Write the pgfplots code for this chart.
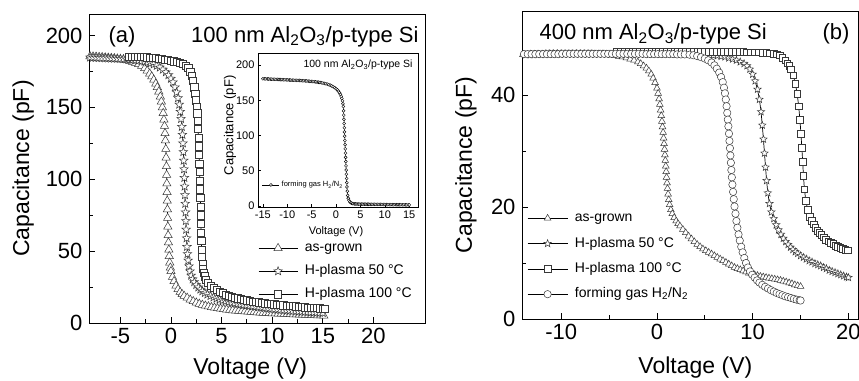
\documentclass[border=0pt]{standalone}
\usepackage{fontspec}
\setmainfont{Liberation Sans}
\usepackage{pgfplots}
\pgfplotsset{compat=1.18}

\pgfdeclareplotmark{ostar}{%
  \pgfpathmoveto{\pgfpointpolar{90}{\pgfplotmarksize}}%
  \pgfpathlineto{\pgfpointpolar{126}{0.42\pgfplotmarksize}}%
  \pgfpathlineto{\pgfpointpolar{162}{\pgfplotmarksize}}%
  \pgfpathlineto{\pgfpointpolar{198}{0.42\pgfplotmarksize}}%
  \pgfpathlineto{\pgfpointpolar{234}{\pgfplotmarksize}}%
  \pgfpathlineto{\pgfpointpolar{270}{0.42\pgfplotmarksize}}%
  \pgfpathlineto{\pgfpointpolar{306}{\pgfplotmarksize}}%
  \pgfpathlineto{\pgfpointpolar{342}{0.42\pgfplotmarksize}}%
  \pgfpathlineto{\pgfpointpolar{18}{\pgfplotmarksize}}%
  \pgfpathlineto{\pgfpointpolar{54}{0.42\pgfplotmarksize}}%
  \pgfpathclose
  \pgfusepathqfillstroke
}

\pgfplotsset{
  cvbase/.style={
    scale only axis,
    axis line style={line width=0.9pt},
    every tick/.style={line width=0.9pt, black},
    tick align=inside,
    tick pos=left,
    major tick length=6pt, minor tick length=3.5pt,
    /pgf/number format/assume math mode=true,
    legend cell align=left,
  },
  mk/.style={black, line width=0.7pt, mark options={fill=white, draw=black!78, line width=0.5pt, solid}},
  tri/.style={mk, mark=triangle*, mark size=#1},
  sqr/.style={mk, mark=square*, mark size=#1},
  str/.style={mk, mark=ostar, mark size=#1},
  cir/.style={mk, mark=*, mark size=#1},
}

\begin{document}
\begin{tikzpicture}
\path[use as bounding box] (0pt,0pt) rectangle (859pt,380pt);

% ---------------- panel (a)
\begin{axis}[cvbase,
  at={(89pt,57pt)}, anchor=south west, width=336pt, height=309pt,
  xmin=-8.1, xmax=25.1, ymin=0, ymax=215,
  xtick={-5,0,...,20}, ytick={0,50,...,200},
  minor x tick num=1, minor y tick num=1,
  ticklabel style={font=\fontsize{22}{26}\selectfont},
  yticklabel style={xshift=-3pt}, xticklabel style={yshift=-2pt},
  xlabel={Voltage (V)}, ylabel={Capacitance (pF)},
  label style={font=\fontsize{23}{27}\selectfont},
  xlabel style={at={(axis description cs:0.48,-0.167)}, anchor=base},
  ylabel style={at={(axis description cs:-0.196,0.5)}, anchor=center},
  legend style={at={(rel axis cs:0.503,0.267)}, anchor=north west, draw=none, fill=none,
    font=\fontsize{14}{16}\selectfont, inner sep=0pt, row sep=8pt, column sep=6pt,
    nodes={inner sep=1pt, text height=10pt, text depth=3pt}},
  legend image code/.code={\draw[mark repeat=2,mark phase=2,#1] plot coordinates {(0pt,0pt) (19.5pt,0pt) (39pt,0pt)};},
]
\addplot[tri=4.8pt] coordinates {
(-8,185.5) (-7.7,185.3) (-7.4,185.2) (-7.1,185.0) (-6.8,184.9) (-6.5,184.7) (-6.2,184.5) (-5.9,184.3) (-5.6,184.1) (-5.3,183.8) (-5.0,183.5) (-4.7,183.2) (-4.4,182.8) (-4.1,182.3) (-3.8,181.7) (-3.5,181.0) (-3.2,180.0) (-2.9,178.8) (-2.6,177.2) (-2.35,175.5) (-2.1,173.5) (-1.9,171.5) (-1.7,169.2) (-1.5,166.5) (-1.35,164) (-1.2,161) (-1.05,157.5) (-0.95,154) (-0.85,150) (-0.77,146) (-0.7,141.5) (-0.64,137) (-0.59,132) (-0.55,127) (-0.51,121) (-0.48,115) (-0.45,109) (-0.43,103) (-0.41,97) (-0.39,91) (-0.37,85) (-0.35,79) (-0.33,73) (-0.31,67) (-0.28,61) (-0.25,56) (-0.21,51) (-0.17,46.5) (-0.12,42) (-0.06,38.5) (0,36) (0.15,32) (0.3,29) (0.5,26) (0.7,23.5) (0.9,21.5) (1.1,20) (1.3,18.8) (1.6,17.5) (1.9,16.2) (2.2,15.1) (2.5,14.1) (2.8,13.3) (3.1,12.6) (3.4,12.0) (3.7,11.5) (4.0,11.0) (4.3,10.6) (4.6,10.2) (4.9,9.9) (5.2,9.6) (5.5,9.3) (5.8,9.0) (6.1,8.8) (6.4,8.6) (6.7,8.4) (7.0,8.2) (7.3,8.0) (7.6,7.8) (7.9,7.6) (8.2,7.5) (8.5,7.3) (8.8,7.2) (9.1,7.0) (9.4,6.9) (9.7,6.8) (10.0,6.7) (10.3,6.6) (10.6,6.5) (10.9,6.4) (11.2,6.3) (11.5,6.2) (11.8,6.1) (12.1,6.0) (12.4,5.9) (12.7,5.8) (13.0,5.7) (13.3,5.6) (13.6,5.5) (13.9,5.45) (14.2,5.4) (14.5,5.3) (14.8,5.2) (15.1,5.1)
};
\addlegendentry{as-grown}
\addplot[str=4.5pt] coordinates {
(-8,184.8) (-7.7,184.7) (-7.4,184.6) (-7.1,184.5) (-6.8,184.4) (-6.5,184.3) (-6.2,184.2) (-5.9,184.1) (-5.6,184.0) (-5.3,183.9) (-5.0,183.8) (-4.7,183.7) (-4.4,183.5) (-4.1,183.3) (-3.8,183.1) (-3.5,182.9) (-3.2,182.6) (-2.9,182.3) (-2.6,181.9) (-2.3,181.4) (-2.0,180.8) (-1.7,180.0) (-1.4,179.0) (-1.1,177.8) (-0.8,176.3) (-0.5,174.5) (-0.25,172.5) (0,170) (0.2,167.5) (0.4,164) (0.55,160.5) (0.7,156.5) (0.82,152) (0.92,147) (1.0,142) (1.07,136.5) (1.13,131) (1.18,125) (1.22,119) (1.26,113) (1.29,107) (1.32,101) (1.35,95) (1.38,89) (1.41,83) (1.44,77) (1.47,71) (1.5,65) (1.54,59) (1.58,53) (1.63,48) (1.7,43.5) (1.78,39.5) (1.88,36) (2.0,33) (2.15,30.5) (2.3,28.5) (2.5,26.5) (2.7,24.8) (2.9,23.3) (3.1,22.1) (3.35,20.9) (3.6,19.9) (3.9,18.8) (4.2,17.9) (4.5,17.1) (4.8,16.4) (5.1,15.8) (5.4,15.2) (5.7,14.7) (6.0,14.2) (6.3,13.8) (6.6,13.4) (6.9,13.0) (7.2,12.6) (7.5,12.3) (7.8,12.0) (8.1,11.7) (8.4,11.4) (8.7,11.1) (9.0,10.8) (9.3,10.5) (9.6,10.2) (9.9,9.9) (10.2,9.6) (10.5,9.4) (10.8,9.2) (11.1,9.0) (11.4,8.8) (11.7,8.6) (12.0,8.4) (12.3,8.2) (12.6,8.0) (12.9,7.9) (13.2,7.7) (13.5,7.6) (13.8,7.4) (14.1,7.3) (14.4,7.2) (14.7,7.1) (15.0,7.0)
};
\addlegendentry{H-plasma 50 °C}
\addplot[sqr=3.6pt] coordinates {
(-4.2,185.5) (-3.9,185.4) (-3.6,185.3) (-3.3,185.2) (-3.0,185.1) (-2.7,185.0) (-2.4,184.9) (-2.1,184.7) (-1.8,184.5) (-1.5,184.3) (-1.2,184.0) (-0.9,183.7) (-0.6,183.3) (-0.3,182.9) (0,182.5) (0.3,182.1) (0.6,181.6) (0.9,181.0) (1.2,180.2) (1.45,179.2) (1.7,177.5) (1.9,175) (2.05,172) (2.18,168.5) (2.3,164) (2.4,159.5) (2.48,155) (2.55,150.5) (2.6,146) (2.64,141) (2.68,135) (2.71,129) (2.74,123) (2.77,117) (2.8,111) (2.83,105) (2.86,99) (2.88,93) (2.9,87) (2.92,81) (2.94,75) (2.96,69) (2.98,63) (3.0,57) (3.03,51) (3.06,46) (3.1,41.5) (3.16,38) (3.24,35) (3.34,32.5) (3.46,30.2) (3.6,28) (3.9,26) (4.2,24.3) (4.5,23) (4.8,21.8) (5.1,20.8) (5.4,19.9) (5.7,19.1) (6.0,18.4) (6.3,17.8) (6.6,17.2) (6.9,16.7) (7.2,16.2) (7.5,15.8) (7.8,15.4) (8.1,15.0) (8.4,14.7) (8.7,14.4) (9.0,14.1) (9.3,13.8) (9.6,13.5) (9.9,13.3) (10.2,13.0) (10.5,12.8) (10.8,12.6) (11.1,12.4) (11.4,12.2) (11.7,12.0) (12.0,11.8) (12.3,11.6) (12.6,11.4) (12.9,11.2) (13.2,11.0) (13.5,10.8) (13.8,10.7) (14.1,10.5) (14.4,10.4) (14.7,10.2) (15.0,10.0) (15.2,9.9)
};
\addlegendentry{H-plasma 100 °C}
\node[anchor=base east, font=\fontsize{22}{26}\selectfont] at (rel axis cs:1,0.909) [xshift=-3pt] {100 nm Al\textsubscript{2}O\textsubscript{3}/p-type Si};
\node[anchor=base west, font=\fontsize{22}{26}\selectfont] at (rel axis cs:0.0476,0.909) {(a)};
\end{axis}

% ---------------- inset
\begin{axis}[cvbase,
  at={(258pt,173pt)}, anchor=south west, width=160pt, height=154pt,
  axis background/.style={fill=white},
  axis line style={line width=0.6pt},
  every tick/.style={line width=0.6pt, black},
  major tick length=3pt,
  xmin=-16, xmax=16.8, ymin=-1.4, ymax=217,
  xtick={-15,-10,...,15}, ytick={0,50,...,200},
  ticklabel style={font=\fontsize{11}{13}\selectfont},
  xlabel={Voltage (V)}, ylabel={Capacitance (pF)},
  xlabel style={font=\fontsize{11}{13}\selectfont, at={(axis description cs:0.4875,-0.18)}, anchor=base},
  ylabel style={font=\fontsize{13}{15}\selectfont, at={(axis description cs:-0.175,0.53)}, anchor=center},
  legend style={at={(rel axis cs:0.025,0.143)}, anchor=west, draw=none, fill=none,
    font=\fontsize{7.5}{9}\selectfont, inner sep=0pt, column sep=1.5pt,
    nodes={inner sep=0.5pt}},
  legend image code/.code={\draw[mark repeat=2,mark phase=2,#1] plot coordinates {(0pt,0pt) (8.5pt,0pt) (17pt,0pt)};},
]
\addplot[cir=1.5pt, line width=0.5pt, mark options={fill=white, draw=black, line width=0.4pt}] coordinates {
(-15,180.5) (-14.7,180.4) (-14.4,180.3) (-14.1,180.2) (-13.8,180.1) (-13.5,180.0) (-13.2,179.9) (-12.9,179.8) (-12.6,179.7) (-12.3,179.6) (-12.0,179.5) (-11.7,179.4) (-11.4,179.3) (-11.1,179.2) (-10.8,179.1) (-10.5,179.0) (-10.2,178.9) (-9.9,178.8) (-9.6,178.7) (-9.3,178.6) (-9.0,178.5) (-8.7,178.4) (-8.4,178.3) (-8.1,178.2) (-7.8,178.1) (-7.5,178.0) (-7.2,177.9) (-6.9,177.7) (-6.6,177.6) (-6.3,177.4) (-6.0,177.3) (-5.7,177.1) (-5.4,176.9) (-5.1,176.7) (-4.8,176.5) (-4.5,176.3) (-4.2,176.1) (-3.9,175.8) (-3.6,175.5) (-3.3,175.2) (-3.0,174.8) (-2.7,174.4) (-2.4,173.9) (-2.1,173.4) (-1.8,172.8) (-1.5,172.1) (-1.2,171.3) (-0.9,170.3) (-0.6,169.2) (-0.3,167.9) (0,166.4) (0.25,164.8) (0.5,162.8) (0.7,160.7) (0.9,158.2) (1.05,155.5) (1.2,152.5) (1.32,149) (1.42,145) (1.5,141) (1.54,135) (1.58,129) (1.62,123) (1.65,117) (1.69,111) (1.73,105) (1.77,99) (1.81,93) (1.85,87) (1.89,81) (1.93,75) (1.96,69) (2.0,63) (2.04,57) (2.08,51) (2.12,45) (2.16,39) (2.2,33) (2.24,27) (2.3,21) (2.38,15) (2.5,11) (2.65,8) (2.82,6) (3.0,4.8) (3.2,4) (3.45,3.4) (3.75,3.0) (4.0,2.9) (4.3,2.85) (4.6,2.8) (4.9,2.75) (5.2,2.7) (5.5,2.65) (5.8,2.6) (6.1,2.55) (6.4,2.5) (6.7,2.5) (7.0,2.45) (7.3,2.4) (7.6,2.4) (7.9,2.35) (8.2,2.3) (8.5,2.3) (8.8,2.25) (9.1,2.2) (9.4,2.2) (9.7,2.15) (10.0,2.1) (10.3,2.1) (10.6,2.05) (10.9,2.0) (11.2,2.0) (11.5,1.95) (11.8,1.9) (12.1,1.9) (12.4,1.85) (12.7,1.8) (13.0,1.8) (13.3,1.75) (13.6,1.7) (13.9,1.7) (14.2,1.65) (14.5,1.6) (14.8,1.6) (15.0,1.6)
};
\addlegendentry{forming gas H\textsubscript{2}/N\textsubscript{2}}
\node[anchor=east, font=\fontsize{10.5}{12}\selectfont] at (rel axis cs:1,0.922) [xshift=-2pt] {100 nm Al\textsubscript{2}O\textsubscript{3}/p-type Si};
\end{axis}

% ---------------- panel (b)
\begin{axis}[cvbase,
  at={(522pt,61pt)}, anchor=south west, width=336pt, height=308pt,
  xmin=-14.1, xmax=21, ymin=0, ymax=55,
  xtick={-10,0,10,20}, ytick={0,20,40},
  minor x tick num=1, minor y tick num=1,
  ticklabel style={font=\fontsize{22}{26}\selectfont},
  yticklabel style={xshift=-3pt}, xticklabel style={yshift=-2pt},
  xlabel={Voltage (V)}, ylabel={Capacitance (pF)},
  label style={font=\fontsize{23}{27}\selectfont},
  xlabel style={at={(axis description cs:0.516,-0.177)}, anchor=base},
  ylabel style={at={(axis description cs:-0.167,0.5)}, anchor=center},
  legend style={at={(rel axis cs:0.015,0.352)}, anchor=north west, draw=none, fill=none,
    font=\fontsize{14}{16}\selectfont, inner sep=0pt, row sep=10.3pt, column sep=6pt,
    nodes={inner sep=1pt, text height=10pt, text depth=3pt}},
  legend image code/.code={\draw[mark repeat=2,mark phase=2,#1] plot coordinates {(0pt,0pt) (20pt,0pt) (40pt,0pt)};},
]
\addplot[tri=3.9pt] coordinates {
(-14.0,47.2) (-13.6,47.2) (-13.2,47.3) (-12.8,47.3) (-12.4,47.3) (-12.0,47.3) (-11.6,47.4) (-11.2,47.4) (-10.8,47.4) (-10.4,47.4) (-10.0,47.4) (-9.6,47.4) (-9.2,47.4) (-8.8,47.4) (-8.4,47.4) (-8.0,47.4) (-7.6,47.4) (-7.2,47.4) (-6.8,47.4) (-6.4,47.3) (-6.0,47.3) (-5.6,47.3) (-5.2,47.2) (-4.8,47.1) (-4.4,47.0) (-4.0,46.9) (-3.6,46.8) (-3.2,46.6) (-2.8,46.4) (-2.4,46.2) (-2.0,45.9) (-1.7,45.6) (-1.4,45.2) (-1.1,44.8) (-0.85,44.3) (-0.6,43.7) (-0.4,43.0) (-0.2,42.2) (0,41.2) (0.12,40.3) (0.22,39.3) (0.3,38.3) (0.38,37.3) (0.45,36.3) (0.52,35.3) (0.58,34.3) (0.64,33.3) (0.69,32.3) (0.74,31.3) (0.79,30.3) (0.83,29.3) (0.87,28.3) (0.92,27.3) (0.96,26.3) (1.0,25.3) (1.05,24.3) (1.1,23.3) (1.16,22.3) (1.23,21.3) (1.32,20.4) (1.45,19.5) (1.6,18.8) (1.8,18.1) (2.0,17.5) (2.2,17.0) (2.4,16.6) (2.7,16.0) (3.0,15.4) (3.3,14.8) (3.6,14.3) (3.9,13.8) (4.2,13.3) (4.5,12.9) (4.8,12.5) (5.1,12.2) (5.4,11.9) (5.7,11.6) (6.0,11.3) (6.3,11.0) (6.6,10.7) (6.9,10.4) (7.2,10.1) (7.5,9.8) (7.8,9.5) (8.1,9.2) (8.4,9.0) (8.7,8.8) (9.0,8.6) (9.3,8.4) (9.6,8.2) (9.9,8.05) (10.2,7.9) (10.5,7.75) (10.8,7.6) (11.1,7.5) (11.4,7.4) (11.7,7.3) (12.0,7.2) (12.3,7.1) (12.6,7.0) (12.9,6.9) (13.2,6.75) (13.5,6.6) (13.8,6.45) (14.1,6.3) (14.4,6.1) (14.7,5.95) (15.0,5.8)
};
\addlegendentry{as-grown}
\addplot[str=3.9pt] coordinates {
(-13.7,47.2) (-13.3,47.2) (-12.9,47.2) (-12.5,47.25) (-12.1,47.25) (-11.7,47.25) (-11.3,47.3) (-10.9,47.3) (-10.5,47.3) (-10.1,47.3) (-9.7,47.3) (-9.3,47.3) (-8.9,47.3) (-8.5,47.3) (-8.1,47.3) (-7.7,47.3) (-7.3,47.3) (-6.9,47.3) (-6.5,47.3) (-6.1,47.3) (-5.7,47.3) (-5.3,47.3) (-4.9,47.3) (-4.5,47.3) (-4.1,47.3) (-3.7,47.3) (-3.3,47.3) (-2.9,47.3) (-2.5,47.3) (-2.1,47.3) (-1.7,47.3) (-1.3,47.3) (-0.9,47.3) (-0.5,47.3) (-0.1,47.3) (0.3,47.3) (0.7,47.3) (1.1,47.3) (1.5,47.3) (1.9,47.3) (2.3,47.3) (2.7,47.3) (3.1,47.3) (3.5,47.25) (3.9,47.25) (4.3,47.2) (4.7,47.2) (5.1,47.15) (5.5,47.1) (5.9,47.05) (6.3,47.0) (6.7,46.9) (7.1,46.8) (7.5,46.6) (7.9,46.4) (8.3,46.2) (8.7,45.9) (9.1,45.6) (9.4,45.2) (9.7,44.6) (10.0,43.7) (10.25,42.5) (10.5,41.0) (10.7,39.2) (10.87,37.0) (11.0,34.6) (11.12,32.1) (11.23,29.6) (11.34,27.1) (11.45,24.7) (11.58,22.5) (11.75,20.6) (11.95,19.1) (12.2,17.9) (12.45,16.8) (12.7,15.9) (12.95,15.1) (13.2,14.4) (13.45,13.8) (13.7,13.3) (13.95,12.8) (14.2,12.4) (14.45,12.0) (14.7,11.7) (15.0,11.3) (15.3,11.0) (15.6,10.7) (15.9,10.4) (16.2,10.2) (16.5,9.9) (16.8,9.7) (17.1,9.5) (17.4,9.2) (17.7,9.0) (18.0,8.7) (18.3,8.5) (18.6,8.3) (18.9,8.1) (19.2,7.9) (19.5,7.7) (19.8,7.5) (20.0,7.4)
};
\addlegendentry{H-plasma 50 °C}
\addplot[sqr=3.3pt] coordinates {
(-4.2,47.7) (-3.8,47.7) (-3.4,47.7) (-3.0,47.7) (-2.6,47.7) (-2.2,47.7) (-1.8,47.7) (-1.4,47.7) (-1.0,47.7) (-0.6,47.7) (-0.2,47.7) (0.2,47.7) (0.6,47.7) (1.0,47.7) (1.4,47.7) (1.8,47.7) (2.2,47.7) (2.6,47.7) (3.0,47.7) (3.4,47.7) (3.8,47.7) (4.2,47.7) (4.6,47.7) (5.0,47.7) (5.4,47.7) (5.8,47.7) (6.2,47.7) (6.6,47.7) (7.0,47.7) (7.4,47.7) (7.8,47.7) (8.2,47.7) (8.6,47.7) (9.0,47.7) (9.4,47.65) (9.8,47.65) (10.2,47.6) (10.6,47.6) (11.0,47.55) (11.4,47.5) (11.8,47.45) (12.2,47.4) (12.5,47.3) (12.8,47.1) (13.1,46.7) (13.4,46.2) (13.6,45.7) (13.8,45.2) (14.0,44.6) (14.25,43.5) (14.45,42.0) (14.65,40.2) (14.8,38.0) (14.93,35.6) (15.04,33.1) (15.13,30.6) (15.22,28.1) (15.3,25.6) (15.4,23.2) (15.55,21.1) (15.75,19.5) (15.98,18.3) (16.15,17.5) (16.35,16.9) (16.55,16.3) (16.75,15.8) (16.95,15.4) (17.15,15.0) (17.4,14.6) (17.65,14.2) (17.9,13.9) (18.15,13.6) (18.4,13.4) (18.65,13.1) (18.9,12.9) (19.15,12.7) (19.4,12.55) (19.65,12.4) (19.9,12.3)
};
\addlegendentry{H-plasma 100 °C}
\addplot[cir=3.7pt] coordinates {
(-13.9,47.3) (-13.5,47.3) (-13.1,47.3) (-12.7,47.3) (-12.3,47.3) (-11.9,47.3) (-11.5,47.3) (-11.1,47.3) (-10.7,47.3) (-10.3,47.3) (-9.9,47.35) (-9.5,47.35) (-9.1,47.35) (-8.7,47.35) (-8.3,47.35) (-7.9,47.35) (-7.5,47.35) (-7.1,47.35) (-6.7,47.35) (-6.3,47.35) (-5.9,47.35) (-5.5,47.35) (-5.1,47.35) (-4.7,47.35) (-4.3,47.35) (-3.9,47.35) (-3.5,47.35) (-3.1,47.35) (-2.7,47.35) (-2.3,47.35) (-1.9,47.35) (-1.5,47.35) (-1.1,47.3) (-0.7,47.3) (-0.3,47.3) (0.1,47.3) (0.5,47.3) (0.9,47.3) (1.3,47.3) (1.7,47.3) (2.1,47.25) (2.5,47.25) (2.9,47.25) (3.4,47.2) (3.8,47.1) (4.2,46.95) (4.6,46.75) (5.0,46.5) (5.35,46.2) (5.7,45.8) (6.0,45.3) (6.25,44.7) (6.5,44.0) (6.7,43.2) (6.87,42.3) (7.0,41.3) (7.1,40.3) (7.19,39.2) (7.27,38.0) (7.34,36.8) (7.4,35.6) (7.46,34.4) (7.52,33.1) (7.57,31.8) (7.62,30.5) (7.67,29.2) (7.72,27.9) (7.77,26.6) (7.82,25.3) (7.88,24.0) (7.95,22.7) (8.02,21.4) (8.1,20.1) (8.2,18.8) (8.3,17.5) (8.4,16.3) (8.52,15.1) (8.65,14.0) (8.8,12.9) (8.95,11.9) (9.12,10.9) (9.3,10.0) (9.5,9.2) (9.72,8.5) (9.95,7.9) (10.2,7.4) (10.45,6.9) (10.7,6.5) (11.0,6.1) (11.3,5.75) (11.6,5.45) (11.9,5.15) (12.2,4.9) (12.5,4.65) (12.8,4.45) (13.1,4.25) (13.4,4.05) (13.7,3.9) (14.0,3.75) (14.3,3.6) (14.6,3.45) (14.9,3.35) (15.0,3.3)
};
\addlegendentry{forming gas H\textsubscript{2}/N\textsubscript{2}}
\node[anchor=base west, font=\fontsize{22}{26}\selectfont] at (rel axis cs:0.0417,0.907) {400 nm Al\textsubscript{2}O\textsubscript{3}/p-type Si};
\node[anchor=base east, font=\fontsize{22}{26}\selectfont] at (rel axis cs:1,0.907) [xshift=-5pt] {(b)};
\end{axis}
\end{tikzpicture}
\end{document}
